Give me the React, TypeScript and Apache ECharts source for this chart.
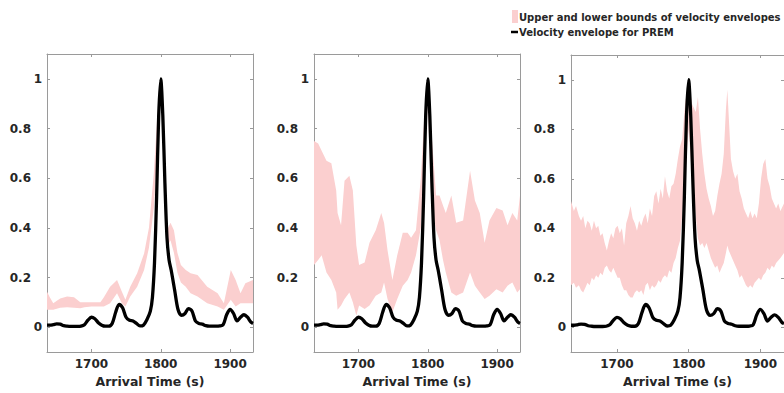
import React, { useEffect, useRef } from "react";
import * as echarts from "echarts";

// PREM velocity envelope (same in every panel)
const premTimes = [1636, 1640, 1645, 1650, 1655, 1660, 1665, 1670, 1675, 1680, 1685, 1690, 1695, 1700, 1705, 1710, 1715, 1720, 1725, 1730, 1735, 1740, 1745, 1750, 1755, 1760, 1765, 1770, 1775, 1780, 1785, 1788, 1791, 1794, 1797, 1800, 1803, 1806, 1809, 1812, 1815, 1820, 1825, 1830, 1835, 1840, 1845, 1850, 1855, 1860, 1865, 1870, 1875, 1880, 1885, 1890, 1895, 1900, 1905, 1910, 1915, 1920, 1925, 1930, 1933];
const premValues = [0.008, 0.008, 0.01, 0.013, 0.012, 0.006, 0.004, 0.003, 0.003, 0.003, 0.004, 0.01, 0.028, 0.04, 0.034, 0.018, 0.008, 0.004, 0.004, 0.015, 0.06, 0.092, 0.078, 0.04, 0.028, 0.025, 0.015, 0.005, 0.008, 0.03, 0.065, 0.12, 0.26, 0.52, 0.85, 1.0, 0.85, 0.58, 0.36, 0.27, 0.23, 0.15, 0.07, 0.048, 0.055, 0.075, 0.065, 0.025, 0.015, 0.012, 0.006, 0.004, 0.004, 0.004, 0.005, 0.01, 0.05, 0.072, 0.055, 0.025, 0.04, 0.05, 0.04, 0.02, 0.015];

// Panel 1 bounds
const times1 = [1636, 1640, 1645, 1655, 1665, 1675, 1684, 1690, 1700, 1713, 1718, 1727, 1737, 1744, 1749, 1756, 1766, 1776, 1783, 1790, 1795, 1800, 1805, 1809, 1814, 1819, 1824, 1829, 1836, 1843, 1853, 1867, 1882, 1891, 1901, 1908, 1915, 1922, 1933];
const upper1 = [0.143, 0.12, 0.096, 0.115, 0.123, 0.12, 0.1, 0.1, 0.1, 0.1, 0.12, 0.163, 0.19, 0.143, 0.11, 0.163, 0.217, 0.297, 0.4, 0.62, 0.85, 1.0, 0.75, 0.39, 0.42, 0.39, 0.3, 0.25, 0.23, 0.217, 0.21, 0.163, 0.137, 0.096, 0.23, 0.19, 0.137, 0.177, 0.19];
const lower1 = [0.07, 0.07, 0.07, 0.078, 0.08, 0.078, 0.076, 0.08, 0.083, 0.083, 0.083, 0.096, 0.137, 0.096, 0.083, 0.123, 0.163, 0.23, 0.32, 0.48, 0.7, 0.95, 0.6, 0.32, 0.35, 0.3, 0.22, 0.18, 0.163, 0.137, 0.123, 0.096, 0.083, 0.07, 0.11, 0.083, 0.096, 0.096, 0.096];

// Panel 2 bounds
const times2 = [1636, 1642, 1647, 1654, 1661, 1668, 1670, 1675, 1680, 1687, 1692, 1697, 1701, 1709, 1716, 1725, 1733, 1737, 1742, 1749, 1756, 1764, 1771, 1776, 1783, 1790, 1795, 1800, 1805, 1812, 1817, 1822, 1826, 1834, 1841, 1851, 1861, 1868, 1875, 1882, 1889, 1899, 1908, 1915, 1922, 1929, 1933];
const upper2 = [0.75, 0.74, 0.71, 0.67, 0.66, 0.55, 0.46, 0.41, 0.59, 0.61, 0.55, 0.33, 0.25, 0.26, 0.34, 0.39, 0.46, 0.42, 0.31, 0.19, 0.29, 0.38, 0.38, 0.36, 0.39, 0.6, 0.85, 1.0, 0.8, 0.53, 0.53, 0.49, 0.46, 0.53, 0.42, 0.43, 0.63, 0.51, 0.46, 0.34, 0.43, 0.48, 0.47, 0.41, 0.46, 0.43, 0.53];
const lower2 = [0.25, 0.27, 0.29, 0.22, 0.19, 0.14, 0.07, 0.087, 0.113, 0.14, 0.1, 0.047, 0.087, 0.073, 0.087, 0.127, 0.14, 0.18, 0.113, 0.06, 0.113, 0.167, 0.19, 0.22, 0.29, 0.4, 0.6, 0.9, 0.5, 0.39, 0.35, 0.27, 0.22, 0.14, 0.127, 0.14, 0.22, 0.167, 0.14, 0.113, 0.127, 0.153, 0.14, 0.167, 0.18, 0.14, 0.153];

// Panel 3 bounds
const times3 = [1636, 1640, 1643, 1647, 1650, 1653, 1656, 1659, 1662, 1665, 1668, 1671, 1674, 1677, 1680, 1683, 1686, 1689, 1692, 1695, 1698, 1701, 1704, 1707, 1710, 1713, 1716, 1719, 1722, 1725, 1728, 1731, 1734, 1737, 1740, 1743, 1746, 1749, 1752, 1755, 1758, 1761, 1764, 1767, 1770, 1773, 1776, 1779, 1782, 1785, 1788, 1791, 1795, 1800, 1805, 1810, 1813, 1816, 1819, 1822, 1825, 1828, 1831, 1834, 1837, 1840, 1843, 1846, 1849, 1852, 1854, 1856, 1859, 1862, 1865, 1868, 1871, 1874, 1877, 1880, 1883, 1886, 1889, 1892, 1895, 1898, 1901, 1904, 1907, 1910, 1913, 1916, 1919, 1922, 1925, 1928, 1933];
const upper3 = [0.51, 0.47, 0.49, 0.45, 0.43, 0.45, 0.4, 0.43, 0.42, 0.39, 0.43, 0.4, 0.41, 0.37, 0.38, 0.34, 0.31, 0.35, 0.38, 0.36, 0.4, 0.41, 0.38, 0.4, 0.33, 0.42, 0.45, 0.49, 0.44, 0.42, 0.39, 0.43, 0.41, 0.44, 0.46, 0.42, 0.48, 0.45, 0.53, 0.55, 0.5, 0.56, 0.52, 0.61, 0.55, 0.52, 0.57, 0.58, 0.62, 0.68, 0.73, 0.76, 0.9, 1.0, 0.9, 0.87, 0.93, 0.8, 0.7, 0.62, 0.56, 0.52, 0.49, 0.45, 0.47, 0.53, 0.58, 0.62, 0.7, 0.88, 0.96, 0.85, 0.68, 0.63, 0.6, 0.62, 0.55, 0.52, 0.48, 0.46, 0.44, 0.47, 0.44, 0.46, 0.44, 0.5, 0.6, 0.66, 0.68, 0.6, 0.57, 0.52, 0.5, 0.48, 0.5, 0.47, 0.5];
const lower3 = [0.17, 0.18, 0.16, 0.17, 0.15, 0.14, 0.16, 0.18, 0.17, 0.2, 0.19, 0.21, 0.2, 0.22, 0.21, 0.24, 0.25, 0.23, 0.22, 0.24, 0.22, 0.2, 0.2, 0.17, 0.15, 0.15, 0.13, 0.12, 0.12, 0.14, 0.15, 0.14, 0.15, 0.13, 0.17, 0.18, 0.15, 0.17, 0.16, 0.17, 0.19, 0.18, 0.2, 0.21, 0.2, 0.23, 0.22, 0.26, 0.28, 0.32, 0.35, 0.45, 0.6, 0.8, 0.6, 0.45, 0.36, 0.33, 0.34, 0.32, 0.34, 0.31, 0.28, 0.26, 0.24, 0.25, 0.22, 0.24, 0.26, 0.3, 0.33, 0.31, 0.29, 0.27, 0.25, 0.23, 0.2, 0.21, 0.19, 0.17, 0.16, 0.17, 0.16, 0.18, 0.19, 0.2, 0.19, 0.21, 0.22, 0.24, 0.23, 0.25, 0.24, 0.26, 0.27, 0.28, 0.3];

const xTicks = [1700, 1800, 1900];
const yTicks = [0, 0.2, 0.4, 0.6, 0.8, 1];
const legendBand = "Upper and lower bounds of velocity envelopes";
const legendLine = "Velocity envelope for PREM";
const xTitle = "Arrival Time (s)";

const PINK = "#fbcfcf";
const AXIS = "#9a9a9a";
const TXT = "#262626";
const FONT = "DejaVu Sans";

export default function App() {
  const ref = useRef<HTMLDivElement>(null);
  useEffect(() => {
    const chart = echarts.init(ref.current!, null, { renderer: "svg" });
    const grids = [
      { left: 47, top: 54, width: 206, height: 298 },
      { left: 314, top: 54, width: 206, height: 298 },
      { left: 571, top: 55, width: 216, height: 297 },
    ];
    const bands = [
      { t: times1, lo: lower1, up: upper1 },
      { t: times2, lo: lower2, up: upper2 },
      { t: times3, lo: lower3, up: upper3 },
    ];
    const xAxis: any[] = [];
    const yAxis: any[] = [];
    const series: any[] = [];
    const line = { show: true, onZero: false, lineStyle: { color: AXIS, width: 1 } };
    grids.forEach((_, i) => {
      const tick = { show: true, inside: true, length: 3, lineStyle: { color: AXIS, width: 1 } };
      xAxis.push({
        type: "value", gridIndex: i, min: 1636, max: 1933, position: "bottom",
        axisLine: line,
        axisTick: { ...tick, customValues: xTicks },
        axisLabel: {
          customValues: xTicks, color: TXT, fontFamily: FONT, fontWeight: "bold", fontSize: 12, margin: 6,
          formatter: (v: number) => String(v),
        },
        splitLine: { show: false },
        name: xTitle, nameLocation: "middle", nameGap: 16,
        nameTextStyle: { color: TXT, fontFamily: FONT, fontWeight: "bold", fontSize: 12.5 },
      });
      xAxis.push({
        type: "value", gridIndex: i, min: 1636, max: 1933, position: "top",
        axisLine: line,
        axisTick: { ...tick, customValues: xTicks },
        axisLabel: { show: false }, splitLine: { show: false },
      });
      yAxis.push({
        type: "value", gridIndex: i, min: -0.1, max: 1.1, position: "left",
        axisLine: line,
        axisTick: { ...tick, customValues: yTicks },
        axisLabel: {
          customValues: yTicks, color: TXT, fontFamily: FONT, fontWeight: "bold", fontSize: 12, margin: 5,
          formatter: (v: number) => {
            const s = String(Math.round(v * 10) / 10);
            return s.length > 1 ? `{a|${s}}` : `{b|${s}}`;
          },
          rich: {
            a: { color: TXT, fontFamily: FONT, fontWeight: "bold", fontSize: 12, padding: [0, 11, 0, 0] },
            b: { color: TXT, fontFamily: FONT, fontWeight: "bold", fontSize: 12 },
          },
        },
        splitLine: { show: false },
      });
      yAxis.push({
        type: "value", gridIndex: i, min: -0.1, max: 1.1, position: "right",
        axisLine: line,
        axisTick: { ...tick, customValues: yTicks },
        axisLabel: { show: false }, splitLine: { show: false },
      });
      const b = bands[i];
      series.push({
        type: "custom", xAxisIndex: i * 2, yAxisIndex: i * 2, silent: true, clip: true,
        data: b.t.map((t, k) => [t, b.lo[k], b.up[k]]),
        encode: { x: 0, y: [1, 2] },
        renderItem: (params: any, api: any) => {
          if (params.dataIndex !== 0) return null;
          const top = b.t.map((t, k) => api.coord([t, b.up[k]]));
          const bot = b.t.map((t, k) => api.coord([t, b.lo[k]])).reverse();
          return { type: "polygon", shape: { points: top.concat(bot) }, style: { fill: PINK } };
        },
      });
      series.push({
        type: "line", xAxisIndex: i * 2, yAxisIndex: i * 2,
        data: premTimes.map((t, k) => [t, premValues[k]]),
        symbol: "none", smooth: 0.3, lineStyle: { color: "#000", width: 3.3 }, silent: true,
      });
    });
    chart.setOption({
      animation: false,
      backgroundColor: "#fff",
      grid: grids.map((g) => ({ ...g, containLabel: false })),
      xAxis, yAxis, series,
      graphic: [
        { type: "rect", shape: { x: 512, y: 10, width: 6, height: 13 }, style: { fill: PINK } },
        { type: "text", x: 519, y: 17, style: { text: legendBand, fill: TXT, font: `bold 10px ${FONT}`, verticalAlign: "middle" } },
        { type: "line", shape: { x1: 511, y1: 32, x2: 518, y2: 32 }, style: { stroke: "#000", lineWidth: 2.5 } },
        { type: "text", x: 519, y: 32, style: { text: legendLine, fill: TXT, font: `bold 10px ${FONT}`, verticalAlign: "middle" } },
      ],
    });
    return () => chart.dispose();
  }, []);
  return <div ref={ref} style={{ position: "absolute", left: 0, top: 0, width: 784, height: 393, background: "#fff" }} />;
}
